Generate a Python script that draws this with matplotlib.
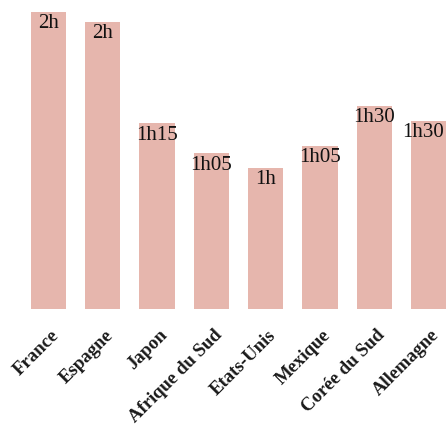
"""Temps passé à table par jour, par pays."""
import matplotlib.pyplot as plt
from matplotlib.transforms import ScaledTranslation

pays = ["France", "Espagne", "Japon", "Afrique du Sud", "Etats-Unis",
        "Mexique", "Corée du Sud", "Allemagne"]
minutes = [120, 116, 75, 63, 57, 66, 82, 76]
etiquettes = ["2h", "2h", "1h15", "1h05", "1h", "1h05", "1h30", "1h30"]

COULEUR = "#e6b6ad"


def main() -> None:
    fig = plt.figure(figsize=(4.47, 4.24), dpi=100)
    ax = fig.add_axes([0, 115 / 424, 1, 309 / 424])

    x = range(len(pays))
    ax.bar(x, minutes, width=0.65, color=COULEUR)

    n = len(pays)
    for i, (v, lab) in enumerate(zip(minutes, etiquettes)):
        # la dernière étiquette touche le bord droit : on la décale un peu
        dx = -5 if i == n - 1 else 0
        ax.annotate(lab, xy=(i, v), xytext=(dx, -12), textcoords="offset pixels",
                    ha="center", va="center", fontsize=15,
                    family="Liberation Serif", color="#111111")

    ax.set_xlim(-0.893, 7.34)
    ax.set_ylim(0, 124.8)
    ax.set_xticks(list(x))
    ax.set_xticklabels(pays, rotation=45, ha="right", va="center",
                       rotation_mode="anchor", fontsize=13.5,
                       family="Liberation Serif", fontweight="bold",
                       color="#1a1a1a")
    ax.tick_params(axis="x", length=0, pad=17)
    ax.set_yticks([])
    for lbl in ax.get_xticklabels():
        lbl.set_transform(lbl.get_transform()
                          + ScaledTranslation(8 / 100, 0, fig.dpi_scale_trans))
    for s in ax.spines.values():
        s.set_visible(False)

    fig.savefig("out.png", dpi=100)
    plt.close(fig)


if __name__ == "__main__":
    main()
